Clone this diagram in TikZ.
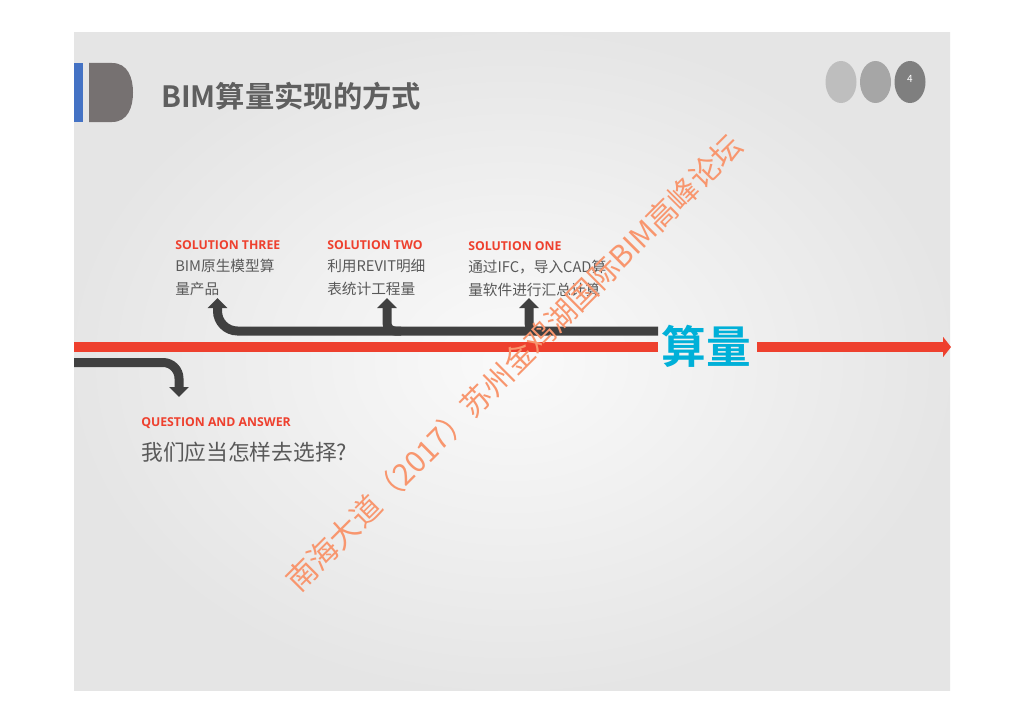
\documentclass[tikz,border=0pt]{standalone}
\usepackage{fontspec}
\setmainfont{Noto Sans CJK SC}[BoldFont=* Bold]
\newfontfamily\osans{Open Sans}[BoldFont=* Bold]
\usetikzlibrary{arrows.meta}
\definecolor{redline}{RGB}{238,64,46}
\definecolor{darkline}{RGB}{64,64,64}
\definecolor{cyanq}{RGB}{0,176,216}
\definecolor{txtgray}{RGB}{89,89,89}
\definecolor{titlegray}{RGB}{95,95,95}
\definecolor{logoblue}{RGB}{68,114,196}
\definecolor{logogray}{RGB}{118,113,113}
\definecolor{wmark}{RGB}{248,150,110}
\definecolor{circA}{RGB}{190,190,190}
\definecolor{circB}{RGB}{166,166,166}
\definecolor{circC}{RGB}{127,127,127}
\begin{document}
\begin{tikzpicture}[x=0.75pt,y=-0.75pt,
  soltitle/.style={anchor=west, inner sep=0pt, text=redline, font=\osans\bfseries\fontsize{9.2}{11}\selectfont},
  soltext/.style={anchor=west, inner sep=0pt, text=txtgray, font=\fontsize{11}{13}\selectfont},
  darkpath/.style={draw=darkline, line width=6.75pt},
  tip/.style={-{Triangle[width=14.5pt,length=7.5pt]}},
  branch/.style={darkpath, tip, rounded corners=6pt}]
\useasboundingbox (0,0) rectangle (1024,724);
\fill[white] (0,0) rectangle (1024,724);
% slide background
\shade[inner color=white!98!black, outer color=white!90!black] (74,33) rectangle (950,690);

% logo
\fill[logoblue] (74,63) rectangle (83,122);
\fill[logogray] (89,63) -- (112,63) .. controls (128,63) and (133,78) .. (133,92.5)
  .. controls (133,107) and (128,122) .. (112,122) -- (89,122) -- cycle;
\node[anchor=west, inner sep=0pt, text=titlegray, font=\bfseries\fontsize{22}{26}\selectfont] (title) at (161,96) {BIM算量实现的方式};

% page circles
\fill[circA] (841,82) ellipse (15.5 and 21);
\fill[circB] (875.5,82) ellipse (15.5 and 21);
\fill[circC] (910,82) ellipse (15.5 and 21);
\node[text=white, font=\fontsize{7.5}{9}\selectfont, inner sep=0pt] (pg) at (910,79) {4};

% main label
\node[text=cyanq, font=\bfseries\fontsize{33.5}{36}\selectfont, inner sep=1.5pt] (sl) at (706,346) {算量};

% red timeline
\coordinate (rs) at (74,347);
\coordinate (rm) at (658,347);
\coordinate (rr) at (757,347);
\coordinate (re) at (951,347);
\draw[redline, line width=7.5pt] (rs) -- (rm);
\draw[redline, line width=7.5pt, -{Triangle[width=15pt,length=6pt]}] (rr) -- (re);

% solution texts
\node[soltitle] (h3) at (175,245) {SOLUTION THREE};
\node[soltext] (s3a) at (175,266) {BIM原生模型算};
\node[soltext] (s3b) at (175,289) {量产品};
\node[soltitle] (h2) at (327,245) {SOLUTION TWO};
\node[soltext] (s2a) at (327,266) {利用REVIT明细};
\node[soltext] (s2b) at (327,289) {表统计工程量};
\node[soltitle] (h1) at (468,246) {SOLUTION ONE};
\node[soltext] (s1a) at (468,267) {通过IFC，导入CAD算};
\node[soltext] (s1b) at (468,290) {量软件进行汇总计算};

% dark branches
\coordinate (hub) at (658,331);
\coordinate (t3) at (217.5,298);
\coordinate (b2) at (401,331);
\coordinate (t2) at (387,298);
\coordinate (b1) at (543,331);
\coordinate (t1) at (529,298);
\draw[darkpath, tip, rounded corners=15pt] (hub) -| (t3);
\draw[branch] (b2) -| (t2);
\draw[branch] (b1) -| (t1);

% question
\coordinate (qs) at (74,362.5);
\coordinate (qt) at (179,397);
\draw[darkpath, tip, rounded corners=12pt] (qs) -| (qt);
\node[soltitle] (qh) at (141,423) {QUESTION AND ANSWER};
\node[anchor=west, inner sep=0pt, text=txtgray, font=\fontsize{16.3}{18}\selectfont] (qa) at (141,452) {我们应当怎样去选择?};

% watermark
\node[rotate=45, text=wmark, font=\fontsize{22.5}{24}\selectfont, inner sep=0pt] (wm) at (514,363) {南海大道（2017）苏州金鸡湖国际BIM高峰论坛};
\end{tikzpicture}
\end{document}
